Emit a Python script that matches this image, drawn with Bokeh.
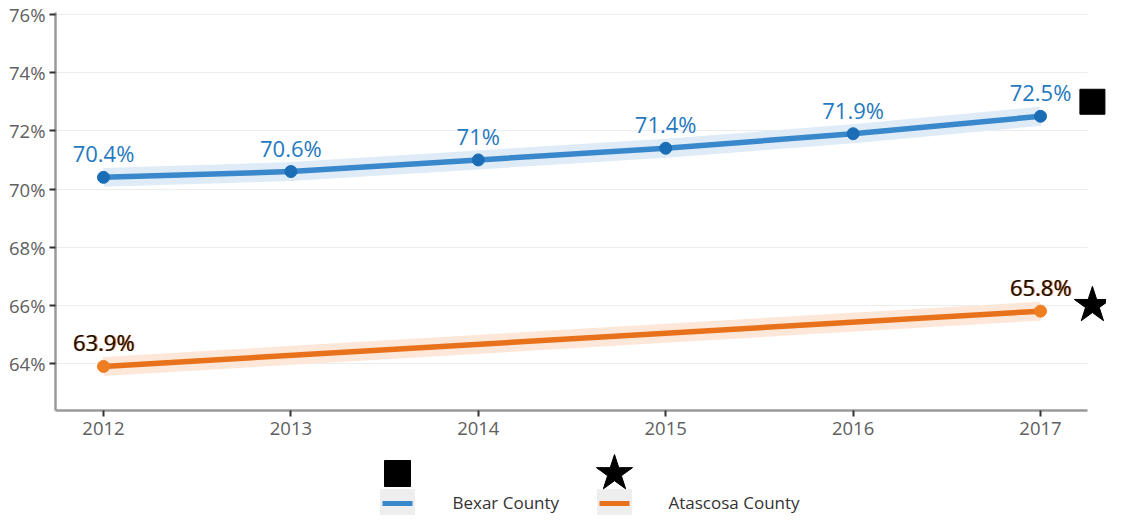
from bokeh.plotting import figure
from bokeh.models import ColumnDataSource, Range1d, LabelSet, FixedTicker, PrintfTickFormatter
from bokeh.layouts import column
from bokeh.core.properties import value
from bokeh.embed import file_html
from bokeh.resources import INLINE

# ---- data ----
years = [2012, 2013, 2014, 2015, 2016, 2017]
bexar = [70.4, 70.6, 71.0, 71.4, 71.9, 72.5]
atascosa_years = [2012, 2017]
atascosa = [63.9, 65.8]
bexar_labels = ["70.4%", "70.6%", "71%", "71.4%", "71.9%", "72.5%"]
atascosa_labels = ["63.9%", "65.8%"]
y_ticks = [64, 66, 68, 70, 72, 74, 76]
series_names = ["Bexar County", "Atascosa County"]
series_markers = ["square", "star"]
end_marker_y = [73.0, 66.0]

FONT = "Open Sans"
BLUE_LINE = "#3a88cc"
BLUE_PT = "#1b6db5"
BLUE_BAND = "#dfecf7"
BLUE_TXT = "#2479c0"
OR_LINE = "#e8711b"
OR_PT = "#ef7d22"
OR_BAND = "#fde7d9"

x_start, x_end = 2011.7439, 2017.3522
grid_end = 2017.2508
marker_x = 2017.277

p = figure(width=1106, height=446, x_range=Range1d(x_start, x_end),
           y_range=Range1d(62.384, 76.069), output_backend="svg",
           toolbar_location=None, min_border_left=55, min_border_right=0,
           min_border_top=12, min_border_bottom=36)
p.outline_line_color = None
p.background_fill_color = "white"

# grid
p.xgrid.grid_line_color = None
p.ygrid.grid_line_color = "#ececec"
p.ygrid.ticker = FixedTicker(ticks=y_ticks)
if "cross_bounds" in p.ygrid.properties():
    p.ygrid.cross_bounds = (x_start, grid_end)

# axes
p.yaxis.ticker = FixedTicker(ticks=y_ticks)
p.yaxis.formatter = PrintfTickFormatter(format="%d%%")
p.xaxis.ticker = FixedTicker(ticks=years)
p.xaxis.bounds = (x_start, grid_end)
for ax in (p.xaxis[0], p.yaxis[0]):
    ax.axis_line_color = "#9a9a9a"
    ax.axis_line_width = 2.5
    ax.major_tick_line_color = "#333333"
    ax.major_tick_line_width = 2
    ax.major_tick_out = 6
    ax.major_tick_in = 0
    ax.minor_tick_line_color = None
    ax.major_label_text_color = "#606060"
    ax.major_label_text_font = FONT
    ax.major_label_text_font_size = "18.5px"
p.xaxis.major_label_standoff = 5
p.yaxis.major_label_standoff = 4

src_b = ColumnDataSource(dict(x=years, y=bexar, t=bexar_labels))
src_a = ColumnDataSource(dict(x=atascosa_years, y=atascosa, t=atascosa_labels))

# bands
p.line("x", "y", source=src_b, line_width=19, color=BLUE_BAND, line_cap="butt")
p.line("x", "y", source=src_a, line_width=19, color=OR_BAND, line_cap="butt")
# lines
p.line("x", "y", source=src_b, line_width=5.5, color=BLUE_LINE)
p.line("x", "y", source=src_a, line_width=5.5, color=OR_LINE)
# points
p.scatter("x", "y", source=src_b, size=12, color=BLUE_PT)
p.scatter("x", "y", source=src_a, size=12, color=OR_PT)

# end markers
p.scatter(x=[marker_x], y=[end_marker_y[0]], marker=series_markers[0], size=25, color="black")
p.scatter(x=[marker_x], y=[end_marker_y[1]], marker=series_markers[1], size=38, color="black")

# labels
LBL = "22px"
p.add_layout(LabelSet(x="x", y="y", text="t", source=src_b, y_offset=24,
                      text_align="center", text_baseline="middle",
                      text_color=BLUE_TXT, text_font=value(FONT), text_font_size=LBL))
p.add_layout(LabelSet(x="x", y="y", text="t", source=src_a, y_offset=24, x_offset=1.2,
                      text_align="center", text_baseline="middle",
                      text_color=OR_LINE, text_font=value(FONT), text_font_size=LBL))
p.add_layout(LabelSet(x="x", y="y", text="t", source=src_a, y_offset=24,
                      text_align="center", text_baseline="middle",
                      text_color="#111111", text_font=value(FONT), text_font_size=LBL))

# ---- legend figure (frame is aligned with main frame: x from 55 to 1106) ----
lg = figure(width=1106, height=69, x_range=Range1d(55, 1106), y_range=Range1d(69, 0),
            output_backend="svg", toolbar_location=None,
            x_axis_location=None, y_axis_location=None,
            min_border=0, min_border_left=0, min_border_right=0,
            min_border_top=0, min_border_bottom=0)
lg.grid.visible = False
lg.outline_line_color = None

item_x = [397, 614]
text_x = [452, 668]
legend_src = ColumnDataSource(dict(
    x=item_x, tx=text_x, name=series_names, marker=series_markers,
    msize=[26, 38]))
lg.rect(x="x", y=56, width=34, height=26, source=legend_src, color="#eeeeee")
lg.scatter(x="x", y=27, marker="marker", size="msize", source=legend_src, color="black")
lg.segment(x0=[x - 15 for x in item_x], x1=[x + 15 for x in item_x], y0=[57, 57], y1=[57, 57],
           color=[BLUE_LINE, OR_LINE], line_width=5)
lg.text(x="tx", y=56, text="name", source=legend_src, text_baseline="middle",
        text_align="left", text_color="#333333", text_font=value(FONT),
        text_font_size="17px")

layout = column(p, lg, spacing=0)
open("out.html", "w").write(file_html(layout, INLINE))
